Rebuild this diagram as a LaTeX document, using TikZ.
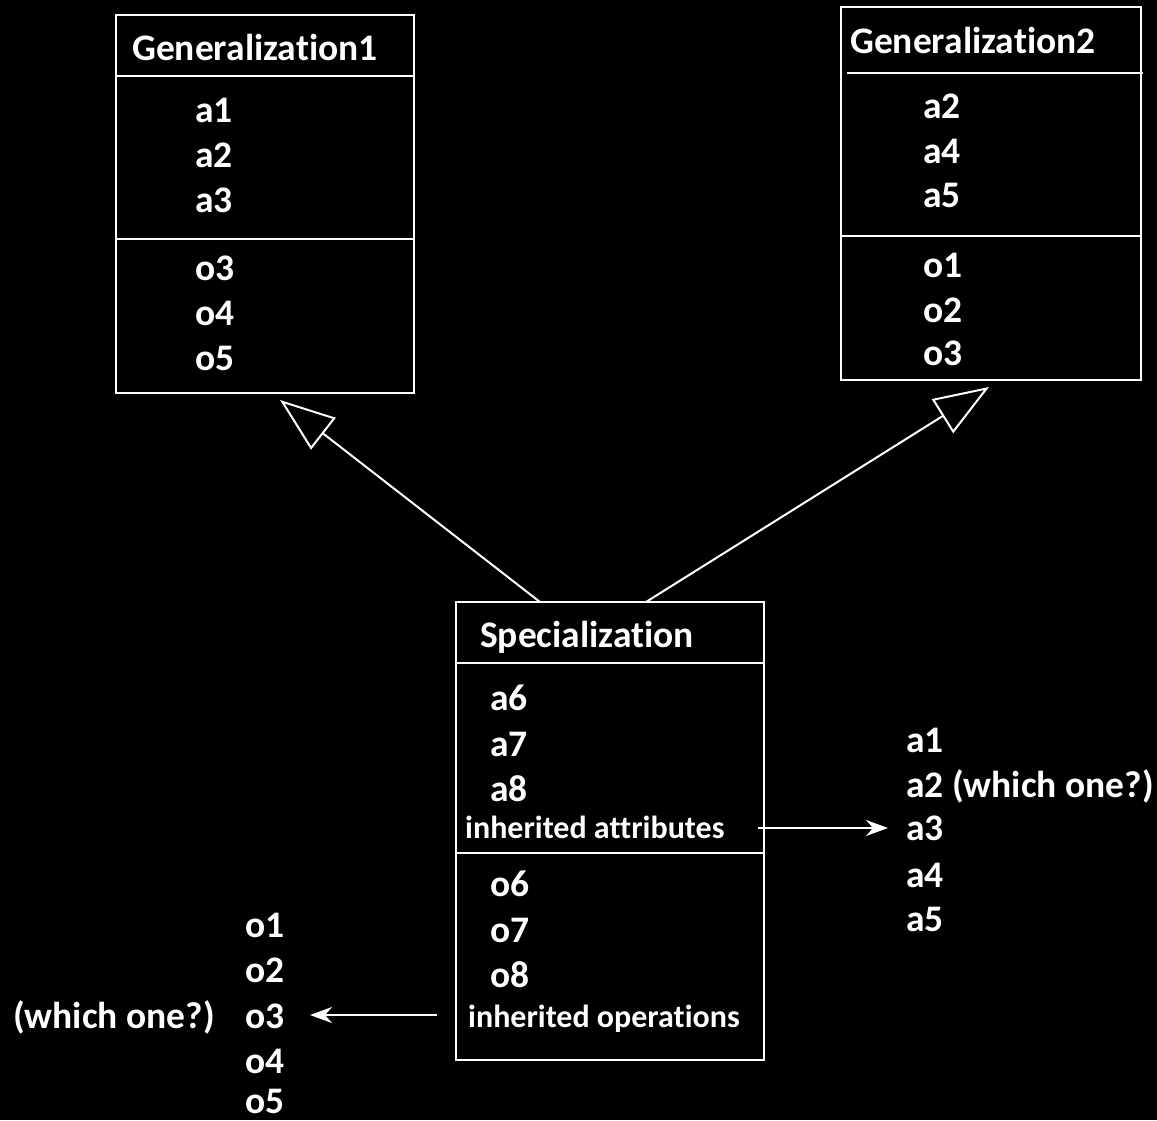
\documentclass[tikz,border=0pt]{standalone}
\usepackage{fontspec}
\setmainfont{Carlito}[Ligatures={NoCommon}]
\usetikzlibrary{arrows.meta,calc}
\begin{document}
\begin{tikzpicture}[x=1pt,y=-1pt,
  box/.style={draw=white, line width=2.5pt, rectangle, inner sep=0pt, outer sep=0pt, anchor=north west},
  sepline/.style={draw=white, line width=2.5pt},
  lbl/.style={text=white, inner sep=0pt, anchor=base west, font=\bfseries\fontsize{37.5}{45}\selectfont},
  small/.style={lbl, font=\bfseries\fontsize{32}{40}\selectfont},
  inherit/.style={draw=white, line width=2pt, -{Triangle[open, length=55pt, width=40pt]}},
  pointer/.style={draw=white, line width=2pt, -{Stealth[length=22pt, width=16pt, inset=7pt]}}
]
\fill[black] (0,0) rectangle (1157,1120);
\useasboundingbox (0,0) rectangle (1157,1120);

% class boxes
\node[box, minimum width=298pt, minimum height=378pt] (g1) at (116,15) {};
\node[box, minimum width=300pt, minimum height=373pt] (g2) at (841,7) {};
\node[box, minimum width=308pt, minimum height=458pt] (sp) at (456,602) {};

% compartment separators
\draw[sepline] ($(g1.north west)+(0,61)$) -- ($(g1.north east)+(0,61)$);
\draw[sepline] ($(g1.north west)+(0,224)$) -- ($(g1.north east)+(0,224)$);
\draw[sepline] ($(g2.north west)+(6,66)$) -- ($(g2.north east)+(2,66)$);
\draw[sepline] ($(g2.north west)+(0,229)$) -- ($(g2.north east)+(0,229)$);
\draw[sepline] ($(sp.north west)+(0,61)$) -- ($(sp.north east)+(0,61)$);
\draw[sepline] ($(sp.north west)+(0,251)$) -- ($(sp.north east)+(0,251)$);

% Generalization1
\node[lbl] (g1title) at (132,60) {Generalization1};
\foreach \t/\y in {a1/122, a2/167, a3/212, o3/280, o4/325, o5/370}
  \node[lbl] (g1-\t) at (195,\y) {\t};

% Generalization2
\node[lbl] (g2title) at (850,53) {Generalization2};
\foreach \t/\y in {a2/118, a4/163, a5/207, o1/277, o2/322, o3/365}
  \node[lbl] (g2-\t) at (923,\y) {\t};

% Specialization
\node[lbl] (sptitle) at (480,647) {Specialization};
\foreach \t/\y in {a6/710, a7/756, a8/801, o6/896, o7/942, o8/987}
  \node[lbl] (sp-\t) at (490,\y) {\t};
\node[small] (inhattr) at (465,838) {inherited attributes};
\node[small] (inhops) at (468,1027) {inherited operations};

% resulting attribute list
\foreach \t/\n/\y in {a1/1/752, a2 (which one?)/2/797, a3/3/840, a4/4/887, a5/5/931}
  \node[lbl] (ra\n) at (906,\y) {\t};

% resulting operation list
\foreach \t/\y in {o1/937, o2/982, o3/1028, o4/1073, o5/1113}
  \node[lbl] (ro-\t) at (245,\y) {\t};
\node[lbl] (whichop) at (13,1028) {(which one?)};

% generalization arrows
\coordinate (g1tip) at (280,400);
\coordinate (g2tip) at (989,387);
\draw[inherit] ($(sp.north west)+(84,0)$) -- (g1tip);
\draw[inherit] ($(sp.north west)+(190,0)$) -- (g2tip);

% inherited members pointers
\coordinate (attrstart) at (758,828);
\coordinate (attrend) at (888,828);
\coordinate (opsstart) at (437,1015);
\coordinate (opsend) at (310,1015);
\draw[pointer] (attrstart) -- (attrend);
\draw[pointer] (opsstart) -- (opsend);
\end{tikzpicture}
\end{document}
